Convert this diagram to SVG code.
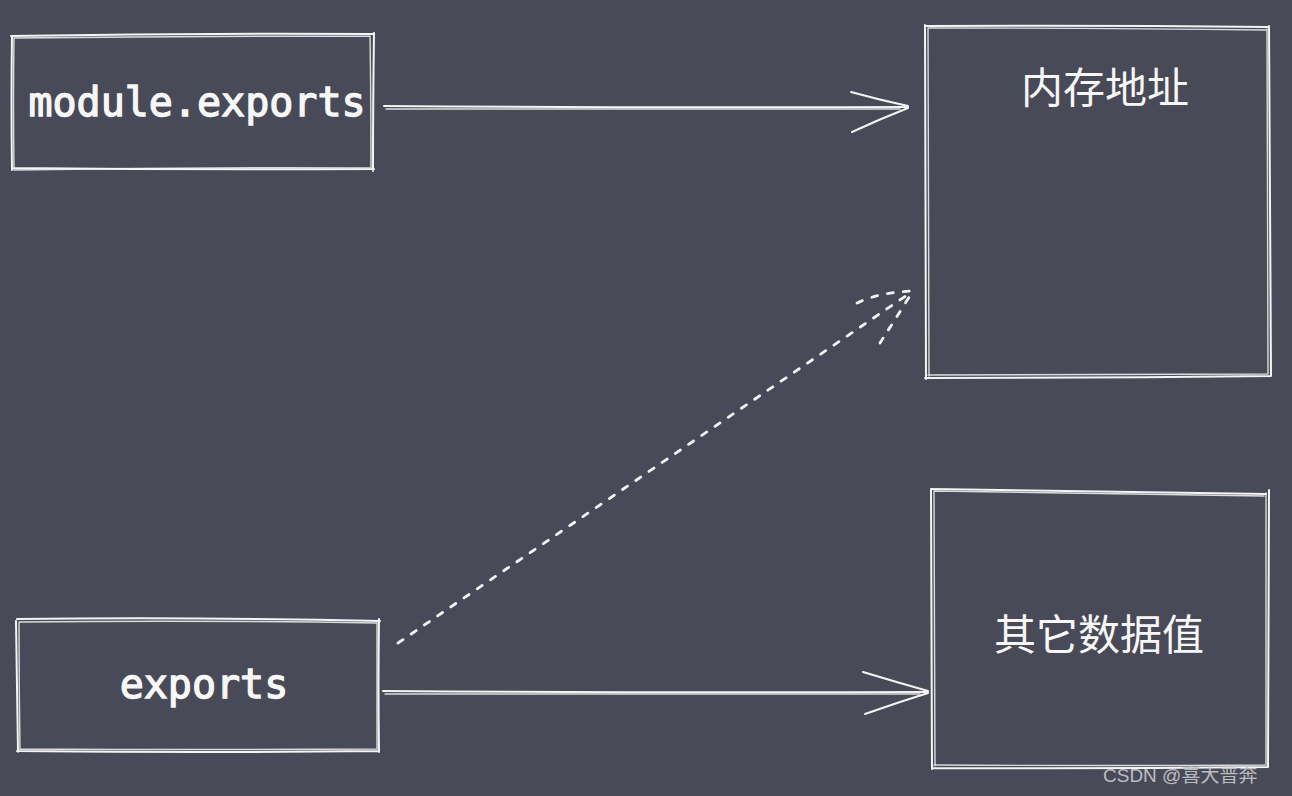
<svg xmlns="http://www.w3.org/2000/svg" width="1292" height="796" viewBox="0 0 1292 796">
<defs>
<style>
.bg{fill:#494a57}
.sk{fill:none;stroke:#f4f4f4;stroke-width:2;stroke-linecap:round;stroke-linejoin:round}
.sk2{fill:none;stroke:#f4f4f4;stroke-width:1.4;stroke-linecap:round;opacity:0.85}
.dash{fill:none;stroke:#f4f4f4;stroke-width:2.8;stroke-dasharray:6 10;stroke-linecap:round}
.mono{font-family:"DejaVu Sans Mono","Liberation Mono",monospace;fill:#f7f7f7;stroke:#f7f7f7;stroke-width:1.3;font-size:40px}
.cjk{font-family:"Noto Sans CJK SC","Noto Sans",sans-serif;fill:#f7f7f7;font-size:42px}
.wm{font-family:"Liberation Sans","Noto Sans CJK SC",sans-serif;fill:#c9c9cf;font-size:19px;opacity:0.9}
</style>
</defs>
<rect class="bg" x="0" y="0" width="1292" height="796"/>

<g id="node-module-exports">
<path class="sk" d="M11 36 Q190 33 374 34 M374 33 Q373 100 373 171 M374 169 Q190 170 12 168 M12 170 Q11 100 12 36"/>
<path class="sk2" d="M14 38 Q190 36 370 36 M370 36 Q371 100 371 168 M370 168 Q190 167 14 170 M14 167 Q13 100 14 38"/>
<text class="mono" x="197" y="116" text-anchor="middle">module.exports</text>
</g>

<g id="node-exports">
<path class="sk" d="M17 619 Q200 617 380 621 M379 619 Q378 685 379 752 M379 751 Q200 753 17 751 M18 752 Q17 685 16 621"/>
<path class="sk2" d="M19 622 Q200 620 376 623 M377 622 Q377 685 377 749 M377 749 Q200 750 20 749 M20 750 Q19 685 19 623"/>
<text class="mono" x="204" y="698" text-anchor="middle">exports</text>
</g>

<g id="node-memory">
<path class="sk" d="M925 26 Q1100 25 1268 27 M1269 26 Q1270 200 1271 376 M1271 376 Q1100 378 925 378 M926 379 Q925 200 925 25"/>
<path class="sk2" d="M928 28 Q1100 28 1266 30 M1267 29 Q1268 200 1268 374 M1268 374 Q1100 375 928 375 M929 376 Q928 200 928 28"/>
<text class="cjk" x="1105" y="103" text-anchor="middle">内存地址</text>
</g>

<g id="node-other">
<path class="sk" d="M931 489 Q1100 492 1266 494 M1269 490 Q1268 630 1268 767 M1268 767 Q1100 769 932 768 M932 769 Q932 630 931 489"/>
<path class="sk2" d="M934 491 Q1100 494 1264 496 M1266 493 Q1266 630 1266 764 M1266 765 Q1100 766 934 765 M935 766 Q935 630 934 492"/>
<text class="cjk" x="1099" y="650" text-anchor="middle">其它数据值</text>
</g>

<g id="connectors">
<path class="sk" d="M384 106 Q640 108 908 107"/>
<path class="sk2" d="M386 109 Q640 110 900 109"/>
<path class="sk" d="M851 92 Q880 100 908 106 M852 132 Q880 119 908 108"/>
<path class="sk" d="M383 691 Q650 693 928 692"/>
<path class="sk2" d="M385 694 Q650 695 920 694"/>
<path class="sk" d="M863 672 Q896 682 928 691 M865 714 Q896 703 928 693"/>
<path class="dash" d="M398 643 L913 291"/>
<path class="dash" d="M857 303 Q880 292 913 291 M880 343 Q896 318 913 291"/>
</g>

<text class="wm" x="1103" y="782">CSDN @喜大普奔</text>
</svg>
